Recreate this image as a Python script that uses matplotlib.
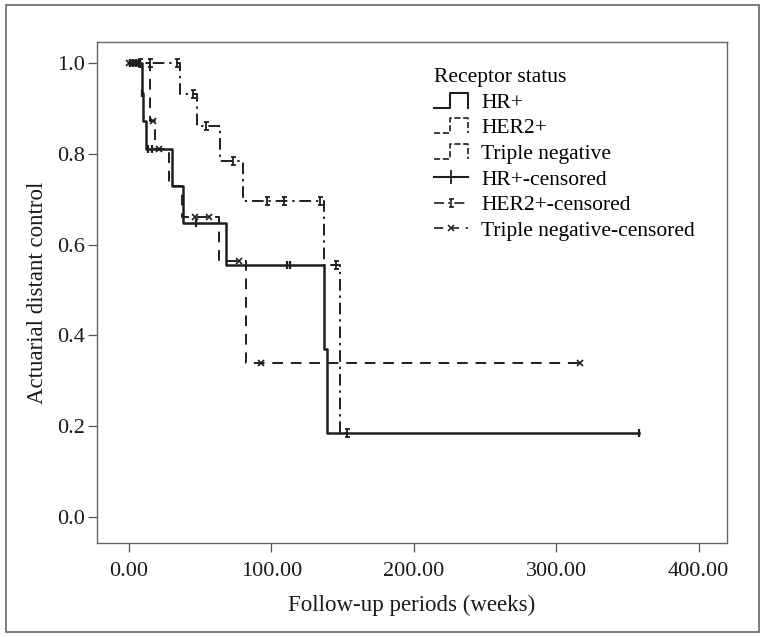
import matplotlib
matplotlib.use("Agg")
import matplotlib.pyplot as plt
from matplotlib.lines import Line2D
from matplotlib.path import Path
from matplotlib.patches import Rectangle
from matplotlib.legend_handler import HandlerBase

plt.rcParams['font.family'] = ['Liberation Serif', 'DejaVu Serif']

# Kaplan-Meier steps (weeks, actuarial distant control)
hr_t = [0, 9, 10, 12, 30, 38, 68, 137, 139, 358]
hr_s = [1.0, 0.934, 0.872, 0.811, 0.73, 0.648, 0.556, 0.37, 0.185, 0.185]
her2_t = [0, 36, 48, 64, 80, 137, 148, 153]
her2_s = [1.0, 0.932, 0.86, 0.785, 0.695, 0.554, 0.185, 0.185]
tn_t = [0, 15, 18, 28, 37, 63, 82, 317]
tn_s = [1.0, 0.872, 0.811, 0.73, 0.66, 0.563, 0.339, 0.339]

# censored observations
hr_cens_t = [1, 3, 5, 7, 9, 13, 16, 47, 111, 113, 358]
hr_cens_s = [1.0, 1.0, 1.0, 1.0, 0.934, 0.811, 0.811, 0.648, 0.556, 0.556, 0.185]
her2_cens_t = [8, 15, 34, 45, 54, 73, 97, 109, 134, 145.5, 153]
her2_cens_s = [1.0, 1.0, 1.0, 0.932, 0.86, 0.785, 0.695, 0.695, 0.695, 0.554, 0.185]
tn_cens_t = [0, 2, 4, 6, 17, 21, 46, 56, 77, 93, 317]
tn_cens_s = [1.0, 1.0, 1.0, 1.0, 0.872, 0.811, 0.66, 0.66, 0.563, 0.339, 0.339]

labels = ['HR+', 'HER2+', 'Triple negative',
          'HR+-censored', 'HER2+-censored', 'Triple negative-censored']

ink = '#1e1e1e'
solid = '-'
dashdot = (0, (6, 2.5, 1.2, 2.5))
dashed = (0, (5.5, 4))

# serif "I" marker for HER2+ censoring
i_marker = Path([(-0.6, 1), (0.6, 1), (0, 1), (0, -1), (-0.6, -1), (0.6, -1)],
                [Path.MOVETO, Path.LINETO, Path.MOVETO, Path.LINETO,
                 Path.MOVETO, Path.LINETO])


class StepHandler(HandlerBase):
    """Legend icon shaped like a survival step: low, up, across, down."""
    def create_artists(self, legend, orig_handle, xdescent, ydescent,
                       width, height, fontsize, trans):
        x0, y0 = -xdescent, -ydescent
        xs = [x0, x0 + 0.45 * width, x0 + 0.45 * width, x0 + width, x0 + width]
        ys = [y0, y0, y0 + height, y0 + height, y0]
        line = Line2D(xs, ys, color=orig_handle.get_color(),
                      linestyle=orig_handle.get_linestyle(),
                      linewidth=orig_handle.get_linewidth(), transform=trans)
        return [line]


fig = plt.figure(figsize=(7.65, 6.37), dpi=100)
ax = fig.add_axes([0.1268, 0.1476, 0.8235, 0.7865])

ax.step(hr_t, hr_s, where='post', color=ink, lw=1.8, linestyle=solid)
ax.step(her2_t, her2_s, where='post', color=ink, lw=1.4, linestyle=dashdot)
ax.step(tn_t, tn_s, where='post', color=ink, lw=1.4, linestyle=dashed)

ax.plot(hr_cens_t, hr_cens_s, linestyle='none', marker='|', ms=6, mew=1.6, color=ink)
ax.plot(her2_cens_t, her2_cens_s, linestyle='none', marker=i_marker, ms=6, mew=1.3, color=ink)
ax.plot(tn_cens_t, tn_cens_s, linestyle='none', marker='x', ms=5, mew=1.2, color=ink)

ax.set_xlim(-22.5, 420)
ax.set_ylim(-0.057, 1.046)
ax.set_xticks([0, 100, 200, 300, 400])
ax.set_xticklabels(['0.00', '100.00', '200.00', '300.00', '400.00'])
ax.set_yticks([0, 0.2, 0.4, 0.6, 0.8, 1.0])
ax.set_yticklabels(['0.0', '0.2', '0.4', '0.6', '0.8', '1.0'])
ax.tick_params(direction='out', length=6.5, width=0.9, color='#555555',
               labelsize=16, labelcolor='#1a1a1a')
ax.tick_params(axis='x', pad=7.5)
ax.tick_params(axis='y', pad=2)
for sp in ax.spines.values():
    sp.set_color('#666666')
    sp.set_linewidth(1.0)

ax.set_xlabel('Follow-up periods (weeks)', fontsize=16.5, color='#1a1a1a', labelpad=10)
ax.set_ylabel('Actuarial distant control', fontsize=16.5, color='#1a1a1a', labelpad=7)

handles = [
    Line2D([], [], color=ink, lw=1.5, linestyle=solid),
    Line2D([], [], color=ink, lw=1.2, linestyle=(0, (2, 2))),
    Line2D([], [], color=ink, lw=1.2, linestyle=(0, (2, 2))),
    Line2D([], [], color=ink, lw=1.5, linestyle=solid, marker='|', ms=10, mew=1.3),
    Line2D([], [], color=ink, lw=1.2, linestyle=dashdot, marker=i_marker, ms=6, mew=1.2),
    Line2D([], [], color=ink, lw=1.2, linestyle=dashed, marker='x', ms=5, mew=1.1),
]
handler_map = {h: StepHandler() for h in handles[:3]}
leg = ax.legend(handles, labels, handler_map=handler_map, title='Receptor status',
                loc='upper left', bbox_to_anchor=(0.535, 0.948), frameon=False,
                fontsize=15.5, title_fontsize=15.5, handlelength=1.6, handleheight=0.7,
                handletextpad=0.6, labelspacing=0.26, borderpad=0, borderaxespad=0,
                alignment='left')

# outer frame around the whole figure
fig.patches.append(Rectangle((0.0075, 0.008), 0.985, 0.984, transform=fig.transFigure,
                             fill=False, edgecolor='#666666', linewidth=1.2))

fig.savefig('out.png', dpi=100)
